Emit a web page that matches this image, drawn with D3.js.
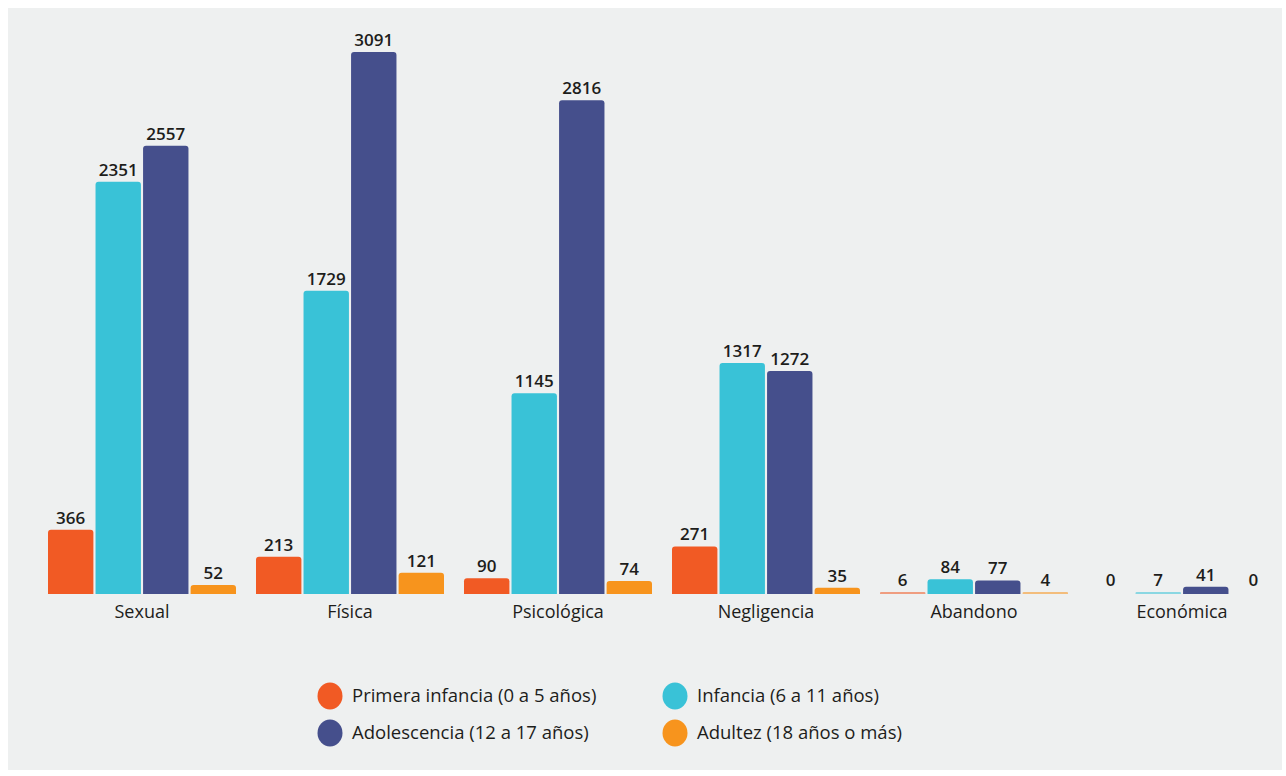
<!DOCTYPE html>
<html>
<head>
<meta charset="utf-8">
<script src="https://cdn.jsdelivr.net/npm/d3@7"></script>
<style>
  body { margin: 0; background: #fff; }
  svg { display: block; font-family: "Open Sans", Lato, sans-serif; }
</style>
</head>
<body>
<div id="chart"></div>
<script>
// Données
const categorias = ["Sexual", "Física", "Psicológica", "Negligencia", "Abandono", "Económica"];
const grupos = ["Primera infancia (0 a 5 años)", "Infancia (6 a 11 años)", "Adolescencia (12 a 17 años)", "Adultez (18 años o más)"];
const primeraInfancia = [366, 213, 90, 271, 6, 0];
const infancia = [2351, 1729, 1145, 1317, 84, 7];
const adolescencia = [2557, 3091, 2816, 1272, 77, 41];
const adultez = [52, 121, 74, 35, 4, 0];
const colores = ["#f15a24", "#39c2d7", "#454f8c", "#f7941d"];

const series = [primeraInfancia, infancia, adolescencia, adultez];

const width = 1286, height = 776;
const baseline = 594;

const svg = d3.select("#chart").append("svg")
    .attr("width", width)
    .attr("height", height);

// Fond gris
svg.append("rect")
    .attr("x", 8).attr("y", 8)
    .attr("width", width - 12).attr("height", height - 14)
    .attr("fill", "#eef0f0");

const x0 = d3.scaleBand()
    .domain(categorias)
    .range([38, 1286]);

const x1 = d3.scaleBand()
    .domain(d3.range(grupos.length))
    .range([10, 198])
    .paddingInner(0.045);

const y = d3.scaleLinear()
    .domain([0, 3091])
    .range([baseline, 52]);

// Barre avec coins supérieurs arrondis
function barPath(x, top, w) {
    const h = baseline - top;
    const r = Math.min(3, h / 2, w / 2);
    return `M${x},${baseline}V${top + r}Q${x},${top} ${x + r},${top}H${x + w - r}Q${x + w},${top} ${x + w},${top + r}V${baseline}Z`;
}

const data = [];
categorias.forEach((c, i) => {
    series.forEach((s, j) => data.push({ cat: c, g: j, value: s[i] }));
});

const bars = svg.append("g");

bars.selectAll("path.bar")
    .data(data.filter(d => d.value > 0))
    .join("path")
    .attr("class", "bar")
    .attr("fill", d => colores[d.g])
    .attr("opacity", d => d.value < 10 ? 0.55 : 1)
    .attr("d", d => {
        const top = Math.min(y(d.value), baseline - 2);
        return barPath(x0(d.cat) + x1(d.g), top, x1.bandwidth());
    });

bars.selectAll("text.val")
    .data(data)
    .join("text")
    .attr("class", "val")
    .attr("x", d => x0(d.cat) + x1(d.g) + x1.bandwidth() / 2)
    .attr("y", d => Math.min(y(d.value), baseline - 2) - 6)
    .attr("text-anchor", "middle")
    .attr("font-size", "17px")
    .attr("font-weight", 600)
    .attr("fill", "#1d1d1b")
    .text(d => d.value);

// Étiquettes des catégories
svg.append("g").selectAll("text")
    .data(categorias)
    .join("text")
    .attr("x", d => x0(d) + x0.bandwidth() / 2)
    .attr("y", 618)
    .attr("text-anchor", "middle")
    .attr("font-size", "18px")
    .attr("font-weight", 500)
    .attr("fill", "#1d1d1b")
    .text(d => d);

// Légende
const legend = svg.append("g");
const legPos = [[330, 696], [675, 696], [330, 733], [675, 733]];
grupos.forEach((g, k) => {
    const [lx, ly] = legPos[k];
    legend.append("ellipse")
        .attr("cx", lx).attr("cy", ly)
        .attr("rx", 12.5).attr("ry", 13.5)
        .attr("fill", colores[k]);
    legend.append("text")
        .attr("x", lx + 22).attr("y", ly + 6)
        .attr("font-size", "18.5px")
        .attr("font-weight", 500)
        .attr("fill", "#1d1d1b")
        .text(g);
});
</script>
</body>
</html>
